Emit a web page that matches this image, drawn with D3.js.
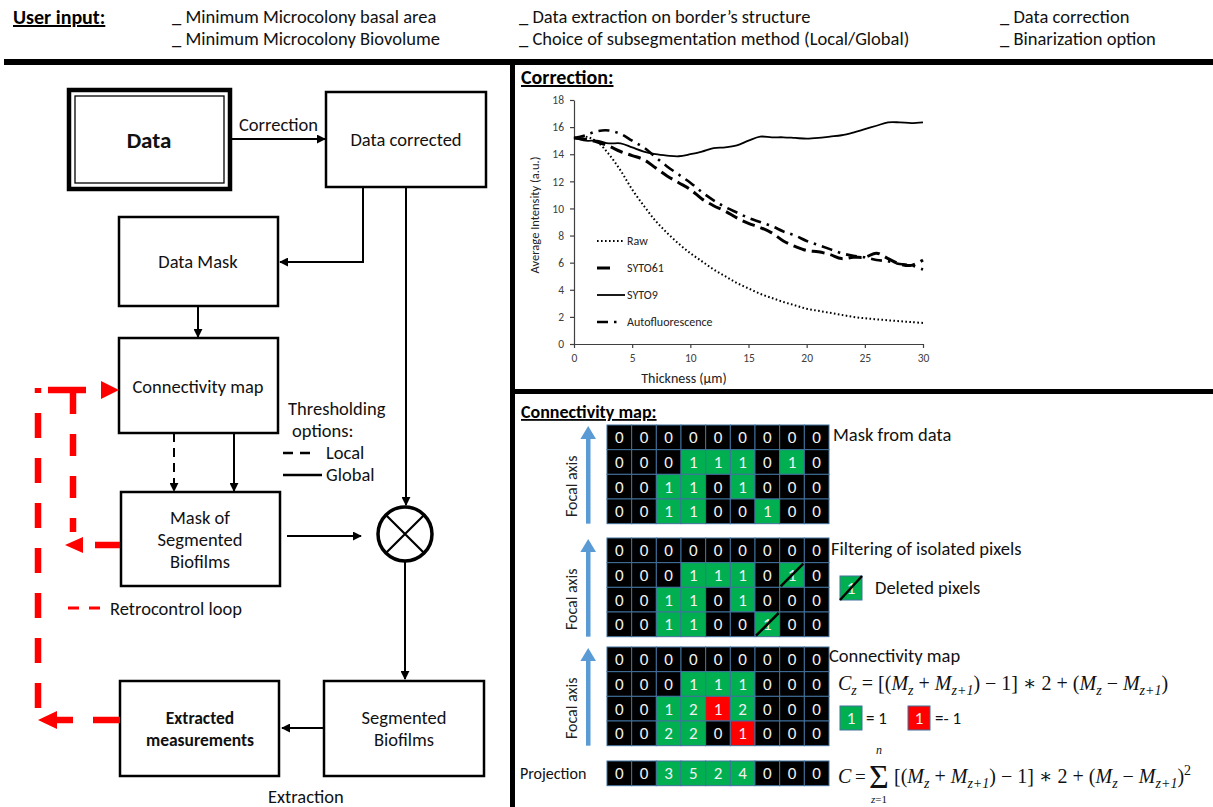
<!DOCTYPE html>
<html>
<head>
<meta charset="utf-8">
<script src="https://cdn.jsdelivr.net/npm/d3@7"></script>
<style>
  body { margin: 0; background: #fff; }
  svg { display: block; font-family: Carlito, Lato, "Open Sans", sans-serif; }
</style>
</head>
<body>
<svg id="fig" width="1213" height="807"></svg>
<script>
// ---------- data ----------
// user input options (3 columns, 2 lines each)
const userInputCol1 = ["_ Minimum Microcolony basal area", "_ Minimum Microcolony Biovolume"];
const userInputCol2 = ["_ Data extraction on border\u2019s structure", "_ Choice of subsegmentation method (Local/Global)"];
const userInputCol3 = ["_ Data correction", "_ Binarization option"];

// correction chart
const thickness = [0,1,2,3,4,5,6,7,8,9,10,11,12,13,14,15,16,17,18,19,20,21,22,23,24,25,26,27,28,29,30];
const rawValues = [15.2,15.3,14.9,14.0,12.8,11.4,10.2,9.1,8.2,7.4,6.7,6.1,5.5,5.0,4.5,4.1,3.7,3.4,3.1,2.85,2.6,2.45,2.3,2.15,2.0,1.9,1.82,1.75,1.68,1.62,1.55];
const syto61Values = [15.2,15.1,14.9,14.6,14.2,13.9,13.6,13.0,12.4,11.9,11.4,10.7,10.2,9.8,9.3,8.9,8.6,8.2,7.6,7.2,6.9,6.8,6.6,6.3,6.4,6.4,6.7,6.3,5.9,5.8,6.2];
const syto9Values = [15.2,15.0,15.0,14.8,14.8,14.5,14.2,14.0,13.9,13.85,14.0,14.2,14.45,14.5,14.65,15.0,15.3,15.25,15.25,15.2,15.15,15.2,15.3,15.4,15.6,15.85,16.1,16.35,16.35,16.3,16.35];
const autoValues = [15.2,15.4,15.7,15.75,15.5,15.0,14.5,13.8,13.1,12.5,11.9,11.2,10.6,10.1,9.7,9.3,9.0,8.7,8.3,8.0,7.6,7.3,7.0,6.7,6.5,6.4,6.2,6.1,5.9,5.8,5.5];
const seriesNames = ["Raw", "SYTO61", "SYTO9", "Autofluorescence"];
const xTicks = [0,5,10,15,20,25,30];
const yTicks = [0,2,4,6,8,10,12,14,16,18];

// connectivity map grids
const maskRows = [
  [0,0,0,0,0,0,0,0,0],
  [0,0,0,1,1,1,0,1,0],
  [0,0,1,1,0,1,0,0,0],
  [0,0,1,1,0,0,1,0,0]
];
const filteredRows = [
  [0,0,0,0,0,0,0,0,0],
  [0,0,0,1,1,1,0,1,0],
  [0,0,1,1,0,1,0,0,0],
  [0,0,1,1,0,0,1,0,0]
];
const deletedPixels = [[1,7],[3,6]]; // [row, col]
const connectRows = [
  [0,0,0,0,0,0,0,0,0],
  [0,0,0,1,1,1,0,0,0],
  [0,0,1,2,1,2,0,0,0],
  [0,0,2,2,0,1,0,0,0]
];
const connectColors = ["kkkkkkkkk", "kkkgggkkk", "kkggrgkkk", "kkggkrkkk"];
const projectionRow = [0,0,3,5,2,4,0,0,0];

// ---------- drawing ----------
const svg = d3.select("#fig");
const GREEN = "#00b050", RED = "#ff0000", LOOP = "#ff0000";

// arrow markers
const defs = svg.append("defs");
defs.append("marker").attr("id", "ah")
  .attr("viewBox", "0 0 10 10").attr("refX", 9).attr("refY", 5)
  .attr("markerWidth", 4.5).attr("markerHeight", 4.5).attr("markerUnits", "strokeWidth")
  .attr("orient", "auto")
  .append("path").attr("d", "M0,0 L10,5 L0,10 z").attr("fill", "#000");

// header
svg.append("text").attr("x", 13).attr("y", 24)
  .attr("font-size", 20).attr("font-weight", "bold")
  .style("text-decoration", "underline").text("User input:");
[[userInputCol1, 172], [userInputCol2, 519], [userInputCol3, 1000]].forEach(([lines, x0]) => {
  svg.append("g").selectAll("text").data(lines).join("text")
    .attr("x", x0).attr("y", (d, i) => 23 + i * 22)
    .attr("font-size", 18.5).attr("fill", "#111").text(d => d);
});

// frame lines
svg.append("rect").attr("x", 4).attr("y", 59).attr("width", 1209).attr("height", 6).attr("fill", "#000");
svg.append("rect").attr("x", 510).attr("y", 59).attr("width", 5).attr("height", 748).attr("fill", "#000");
svg.append("rect").attr("x", 510).attr("y", 389).attr("width", 703).attr("height", 5).attr("fill", "#000");

// ---------- flowchart ----------
const flow = svg.append("g");
function box(x, y, w, h) {
  flow.append("rect").attr("x", x).attr("y", y).attr("width", w).attr("height", h)
    .attr("fill", "#fff").attr("stroke", "#000").attr("stroke-width", 2.5);
}
function label(x, y, lines, opts = {}) {
  flow.append("g").selectAll("text").data(lines).join("text")
    .attr("x", x).attr("y", (d, i) => y + i * 22)
    .attr("text-anchor", opts.anchor || "middle")
    .attr("font-size", opts.size || 18.5)
    .attr("font-weight", opts.bold ? "bold" : null)
    .attr("fill", "#111").text(d => d);
}
function arrow(d, dashed) {
  flow.append("path").attr("d", d).attr("fill", "none").attr("stroke", "#000")
    .attr("stroke-width", 2).attr("stroke-dasharray", dashed ? "9,6" : null)
    .attr("marker-end", "url(#ah)");
}

// Data (double border)
flow.append("rect").attr("x", 69).attr("y", 90).attr("width", 161).attr("height", 99)
  .attr("fill", "#fff").attr("stroke", "#000").attr("stroke-width", 4.5);
flow.append("rect").attr("x", 75).attr("y", 96).attr("width", 149).attr("height", 87)
  .attr("fill", "none").attr("stroke", "#000").attr("stroke-width", 1.3);
label(149, 148, ["Data"], { size: 23, bold: true });

box(326, 92, 160, 95);
label(406, 146, ["Data corrected"]);
box(119, 217, 159, 89);
label(198, 268, ["Data Mask"]);
box(119, 338, 159, 95);
label(198, 393, ["Connectivity map"]);
box(121, 492, 159, 94);
label(200, 524, ["Mask of", "Segmented", "Biofilms"]);
box(324, 681, 160, 95);
label(404, 724, ["Segmented", "Biofilms"]);
box(120, 681, 159, 95);
label(200, 724, ["Extracted", "measurements"], { bold: true, size: 17.5 });

label(239, 131, ["Correction"], { anchor: "start" });
arrow("M232,139 H325");
arrow("M363,188 V262 H280");
arrow("M406,188 V505");
arrow("M198,307 V337");
arrow("M174,433 V491", true);
arrow("M234,433 V491");
arrow("M287,536 H361");
arrow("M405,562 V679");
arrow("M324,728 H282");
label(268, 803, ["Extraction"], { anchor: "start" });

// multiplier circle
flow.append("circle").attr("cx", 405).attr("cy", 534).attr("r", 27)
  .attr("fill", "#fff").attr("stroke", "#000").attr("stroke-width", 3.5);
const rr = 27 * Math.SQRT1_2;
flow.append("path")
  .attr("d", `M${405 - rr},${534 - rr} L${405 + rr},${534 + rr} M${405 + rr},${534 - rr} L${405 - rr},${534 + rr}`)
  .attr("stroke", "#000").attr("stroke-width", 2.2);

// thresholding legend
label(288, 415, ["Thresholding"], { anchor: "start" });
label(292, 437, ["options:"], { anchor: "start" });
flow.append("line").attr("x1", 283).attr("x2", 316).attr("y1", 453).attr("y2", 453)
  .attr("stroke", "#000").attr("stroke-width", 2.5).attr("stroke-dasharray", "10,7");
flow.append("line").attr("x1", 283).attr("x2", 322).attr("y1", 475).attr("y2", 475)
  .attr("stroke", "#000").attr("stroke-width", 2.5);
label(326, 459, ["Local"], { anchor: "start" });
label(326, 481, ["Global"], { anchor: "start" });

// retrocontrol loop (red)
const loop = svg.append("g").attr("fill", "none").attr("stroke", LOOP).attr("stroke-width", 6.5);
loop.append("path").attr("d", "M38,708 V388").attr("stroke-dasharray", "25,20");
loop.append("path").attr("d", "M73,392 V532").attr("stroke-dasharray", "22,20");
loop.append("path").attr("d", "M48,390 H86 M120,545 H95 M120,720 H93 M55,720 H73");
const heads = svg.append("g").attr("fill", LOOP);
heads.append("path").attr("d", "M38,720 L57,711 L57,729 Z");
heads.append("path").attr("d", "M119,390 L101,381 L101,399 Z");
heads.append("path").attr("d", "M65,545 L83,537 L83,553 Z");
svg.append("line").attr("x1", 68).attr("x2", 100).attr("y1", 608).attr("y2", 608)
  .attr("stroke", LOOP).attr("stroke-width", 3).attr("stroke-dasharray", "11,10");
label(110, 615, ["Retrocontrol loop"], { anchor: "start" });

// ---------- correction chart ----------
svg.append("text").attr("x", 521).attr("y", 84).attr("font-size", 20).attr("font-weight", "bold")
  .style("text-decoration", "underline").text("Correction:");

const x = d3.scaleLinear().domain([0, 30]).range([574, 923]);
const y = d3.scaleLinear().domain([0, 18]).range([344, 100]);
const chart = svg.append("g");

const xAxis = chart.append("g").attr("transform", "translate(0,344)")
  .call(d3.axisBottom(x).tickValues(xTicks).tickSize(4).tickSizeOuter(0).tickPadding(6));
const yAxis = chart.append("g").attr("transform", "translate(574,0)")
  .call(d3.axisLeft(y).tickValues(yTicks).tickSize(4).tickSizeOuter(0).tickPadding(6));
[xAxis, yAxis].forEach(a => {
  a.selectAll("path, line").attr("stroke", "#404040").attr("stroke-width", 1.2);
  a.selectAll("text").attr("font-size", 11.5).attr("fill", "#404040")
    .attr("font-family", "Carlito, Lato, sans-serif");
});

chart.append("text").attr("x", 684).attr("y", 383).attr("text-anchor", "middle")
  .attr("font-size", 14).attr("fill", "#222").text("Thickness (\u00b5m)");
chart.append("text").attr("transform", "translate(539,215) rotate(-90)").attr("text-anchor", "middle")
  .attr("font-size", 12.5).attr("fill", "#222").text("Average Intensity (a.u.)");

const seriesValues = [rawValues, syto61Values, syto9Values, autoValues];
const seriesStyle = [
  { w: 2, dash: "1.6,2.4" },
  { w: 3, dash: "13,6" },
  { w: 1.8, dash: null },
  { w: 2.6, dash: "11,6,2.5,6" }
];
const line = d3.line().x((d, i) => x(thickness[i])).y(d => y(d)).curve(d3.curveCatmullRom);
chart.append("g").selectAll("path").data(seriesValues).join("path")
  .attr("d", line).attr("fill", "none").attr("stroke", "#000")
  .attr("stroke-width", (d, i) => seriesStyle[i].w)
  .attr("stroke-dasharray", (d, i) => seriesStyle[i].dash);

// legend inside the plot
const legendY = d3.scalePoint().domain(seriesNames).range([241, 322]);
const legendLen = [28, 15, 28, 20];
const lg = chart.append("g").selectAll("g").data(seriesNames).join("g");
lg.append("line").attr("x1", 597).attr("x2", (d, i) => 597 + legendLen[i])
  .attr("y1", d => legendY(d)).attr("y2", d => legendY(d))
  .attr("stroke", "#000")
  .attr("stroke-width", (d, i) => seriesStyle[i].w)
  .attr("stroke-dasharray", (d, i) => seriesStyle[i].dash);
lg.append("text").attr("x", 627).attr("y", d => legendY(d) + 4)
  .attr("font-size", 12).attr("fill", "#222").text(d => d);

// ---------- connectivity map ----------
svg.append("text").attr("x", 521).attr("y", 418).attr("font-size", 18).attr("font-weight", "bold")
  .style("text-decoration", "underline").text("Connectivity map:");

const col = d3.scaleBand().domain(d3.range(9)).range([607, 829]);
const cell = col.bandwidth();

function drawGrid(rows, colorOf, top, opts = {}) {
  const row = d3.scaleBand().domain(d3.range(rows.length)).range([top, top + cell * rows.length]);
  const g = svg.append("g");
  const cells = rows.flatMap((r, ri) => r.map((v, ci) => ({ v, ri, ci })));
  g.selectAll("rect").data(cells).join("rect")
    .attr("x", d => col(d.ci)).attr("y", d => row(d.ri))
    .attr("width", cell).attr("height", cell)
    .attr("fill", d => colorOf(d))
    .attr("stroke", "#41719c").attr("stroke-width", 1);
  g.selectAll("text").data(cells).join("text")
    .attr("x", d => col(d.ci) + cell / 2).attr("y", d => row(d.ri) + cell / 2 + 6)
    .attr("text-anchor", "middle").attr("font-size", 17).attr("fill", "#f2f2f2")
    .text(d => d.v);
  if (opts.slashes) {
    g.selectAll("line").data(opts.slashes).join("line")
      .attr("x1", d => col(d[1]) + 1).attr("y1", d => row(d[0]) + cell - 1)
      .attr("x2", d => col(d[1]) + cell - 1).attr("y2", d => row(d[0]) + 1)
      .attr("stroke", "#000").attr("stroke-width", 2.5);
  }
  if (opts.axis) {
    const bottom = top + cell * rows.length;
    g.append("rect").attr("x", 586).attr("y", top + 12).attr("width", 4.5).attr("height", bottom - top - 12)
      .attr("fill", "#5b9bd5");
    g.append("path").attr("d", `M588.2,${top + 1} L596,${top + 14} L580.4,${top + 14} Z`).attr("fill", "#5b9bd5");
    g.append("text").attr("transform", `translate(577,${top + cell * 2 + 12}) rotate(-90)`)
      .attr("text-anchor", "middle").attr("font-size", 16).attr("fill", "#222").text("Focal axis");
  }
  return g;
}

drawGrid(maskRows, d => d.v === 1 ? GREEN : "#000", 425, { axis: true });
drawGrid(filteredRows, d => d.v === 1 ? GREEN : "#000", 538, { axis: true, slashes: deletedPixels });
drawGrid(connectRows, d => ({ k: "#000", g: GREEN, r: RED })[connectColors[d.ri][d.ci]], 647, { axis: true });
drawGrid([projectionRow], d => d.v > 0 ? GREEN : "#000", 761);

const side = svg.append("g").attr("fill", "#111");
side.append("text").attr("x", 833).attr("y", 441).attr("font-size", 18.5).text("Mask from data");
side.append("text").attr("x", 831).attr("y", 555).attr("font-size", 18.5).text("Filtering of isolated pixels");
side.append("text").attr("x", 829).attr("y", 662).attr("font-size", 18.5).text("Connectivity map");
side.append("text").attr("x", 520).attr("y", 779).attr("font-size", 16).text("Projection");

// legend swatches
function swatch(x0, y0, fill, slash) {
  side.append("rect").attr("x", x0).attr("y", y0).attr("width", 22).attr("height", 24)
    .attr("fill", fill).attr("stroke", "#41719c").attr("stroke-width", 1);
  side.append("text").attr("x", x0 + 11).attr("y", y0 + 18).attr("text-anchor", "middle")
    .attr("font-size", 17).attr("fill", "#f2f2f2").text("1");
  if (slash) side.append("line").attr("x1", x0).attr("y1", y0 + 24).attr("x2", x0 + 22).attr("y2", y0)
    .attr("stroke", "#000").attr("stroke-width", 2.5);
}
swatch(840, 576, GREEN, true);
side.append("text").attr("x", 875).attr("y", 594).attr("font-size", 18.5).text("Deleted pixels");
swatch(840, 706, GREEN);
side.append("text").attr("x", 866).attr("y", 724).attr("font-size", 17).text("= 1");
swatch(908, 706, RED);
side.append("text").attr("x", 935).attr("y", 724).attr("font-size", 17).text("=- 1");

// formulas
const MATH = "'Liberation Serif', 'DejaVu Serif', serif";
function formula(x0, y0, parts, size) {
  const t = side.append("text").attr("x", x0).attr("y", y0).attr("font-size", size)
    .attr("font-family", MATH);
  let shift = 0;
  parts.forEach(p => {
    const target = p.sub ? 5 : p.sup ? -8 : 0;
    const s = t.append("tspan").attr("dy", target - shift).text(p.t);
    shift = target;
    if (p.i) s.attr("font-style", "italic");
    if (p.sub || p.sup) s.attr("font-size", size * 0.7);
  });
}
const Mz = [{ t: "M", i: true }, { t: "z", i: true, sub: true }];
const Mz1 = [{ t: "M", i: true }, { t: "z+1", i: true, sub: true }];
formula(838, 690, [
  { t: "C", i: true }, { t: "z", i: true, sub: true }, { t: " = [(" }, ...Mz, { t: " + " }, ...Mz1,
  { t: ") \u2212 1] \u2217 2 + (" }, ...Mz, { t: " \u2212 " }, ...Mz1, { t: ")" }
], 20);
formula(838, 783, [{ t: "C", i: true }], 20);
formula(855, 783, [{ t: "=" }], 19);
side.append("text").attr("x", 879).attr("y", 788).attr("text-anchor", "middle")
  .attr("font-size", 34).attr("font-family", MATH).text("\u03a3");
side.append("text").attr("x", 879).attr("y", 754).attr("text-anchor", "middle")
  .attr("font-size", 12).attr("font-style", "italic").attr("font-family", MATH).text("n");
side.append("text").attr("x", 879).attr("y", 803).attr("text-anchor", "middle")
  .attr("font-size", 11).attr("font-family", MATH)
  .html("<tspan font-style='italic'>z</tspan>=1");
formula(894, 783, [
  { t: "[(" }, ...Mz, { t: " + " }, ...Mz1,
  { t: ") \u2212 1] \u2217 2 + (" }, ...Mz, { t: " \u2212 " }, ...Mz1, { t: ")" }, { t: "2", sup: true }
], 20);
</script>
</body>
</html>
